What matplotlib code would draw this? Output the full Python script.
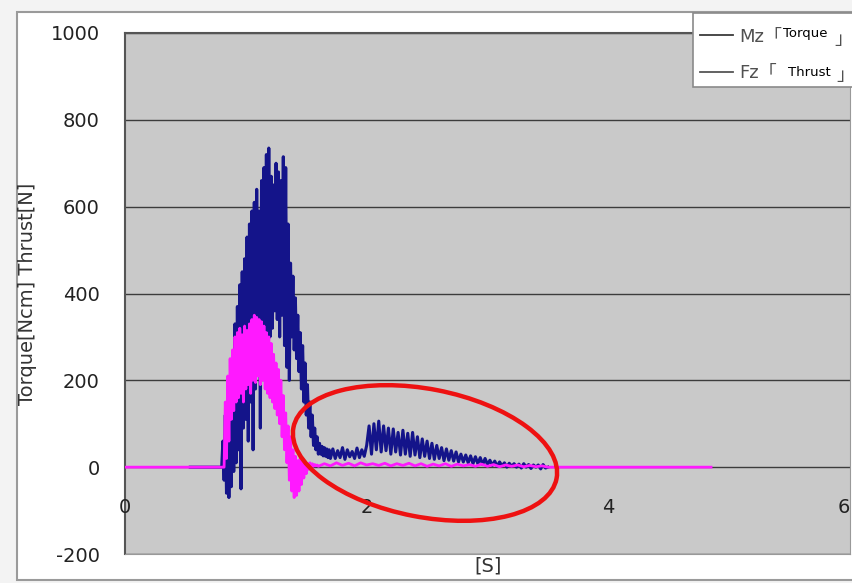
import numpy as np
import matplotlib.pyplot as plt
from matplotlib.patches import Rectangle, Ellipse
from matplotlib.lines import Line2D

# -------- DONNÉES --------
# Mz (Torque) : plat à 0, rafale entre 0.80 et 1.70 s (pas 0.01 s), puis traîne (pas 0.02 s)
MZ_START = [0.54, 0.79]
MZ_START_VAL = [0, 0]
MZ_BURST = [0, 60, -30, 120, -60, 180, -70, 210, -45, 260,
            -10, 330, 10, 370, 40, 420, -50, 450, 90, 480,
            110, 530, 60, 560, 150, 590, 40, 610, 180, 640,
            220, 590, 90, 660, 250, 690, 280, 720, 260, 735,
            300, 670, 320, 650, 360, 700, 340, 680, 300, 660,
            350, 715, 280, 690, 230, 560, 200, 470, 300, 440,
            270, 390, 250, 350, 220, 310, 180, 280, 150, 240,
            120, 190, 90, 150, 70, 120, 50, 90, 40, 70,
            30, 55, 30, 48, 26, 45, 25, 42, 22, 40, 20]
MZ_TAIL = [42, 20, 38, 22, 45, 18, 40, 24, 36, 20, 44, 22, 40, 25, 50,
           95, 30, 100, 40, 106, 35, 95, 38, 90, 30,
           88, 35, 80, 28, 85, 30, 78, 25, 80, 28,
           70, 22, 65, 25, 60, 20, 55, 18, 50, 20,
           45, 15, 42, 16, 38, 14, 35, 12, 30, 12,
           28, 10, 26, 8, 24, 8, 22, 6, 20, 6,
           16, 4, 14, 2, 12, 3, 10, 0, 9, 2,
           8, 0, 7, -2, 8, 0, 6, -3, 5, 0,
           5, -4, 6, -2, 0]

# Fz (Thrust) : rafale entre 0.82 et 1.60 s (pas 0.01 s), puis faible traîne (pas 0.05 s)
FZ_START = [0.0, 0.81]
FZ_START_VAL = [0, 0]
FZ_BURST = [0, 150, 20, 210, 60, 250, 110, 270, 130, 300,
            150, 310, 160, 320, 170, 305, 150, 325, 180, 315,
            190, 330, 170, 340, 200, 350, 195, 345, 210, 340,
            190, 335, 200, 325, 180, 310, 170, 300, 160, 285,
            150, 260, 135, 240, 120, 225, 100, 200, 70, 165,
            40, 125, 10, 95, -30, 70, -55, 40, -70, 25,
            -65, 15, -55, 20, -40, 10, -25, 12, -15, 8,
            -5, 10, 0, 8, 2, 6, 3, 5, 2]
FZ_TAIL = [8, 3, 10, 4, 9, 3, 10, 5, 8, 4,
           9, 3, 8, 4, 9, 3, 8, 2, 7, 3,
           8, 2, 7, 3, 6, 2, 7, 2, 6, 1,
           5, 2, 5, 1, 4, 1, 3, 0]
FZ_END = [3.55, 4.85]
FZ_END_VAL = [0, 0]

Y_TICKS = [1000, 800, 600, 400, 200, 0, -200]
X_TICKS = [0, 2, 4, 6]

# temps
t_mz = np.concatenate([MZ_START, 0.80 + 0.01 * np.arange(len(MZ_BURST)),
                       1.72 + 0.02 * np.arange(len(MZ_TAIL))])
mz = np.concatenate([MZ_START_VAL, MZ_BURST, MZ_TAIL])
t_fz = np.concatenate([FZ_START, 0.82 + 0.01 * np.arange(len(FZ_BURST)),
                       1.65 + 0.05 * np.arange(len(FZ_TAIL)), FZ_END])
fz = np.concatenate([FZ_START_VAL, FZ_BURST, FZ_TAIL, FZ_END_VAL])

W, H = 853, 583
fig = plt.figure(figsize=(W / 100, H / 100), dpi=100, facecolor="#f3f3f3")

# cadre extérieur du graphique
fig.add_artist(Rectangle((17 / W, 1 - 580 / H), 850 / W, 568 / H,
                         transform=fig.transFigure, facecolor="white",
                         edgecolor="#9a9a9a", lw=1.5, zorder=0))

ax = fig.add_axes([125 / W, 1 - 554 / H, 725 / W, 521 / H])
ax.set_facecolor("#c9c9c9")
ax.set_xlim(0, 6)
ax.set_ylim(-200, 1000)

for y in Y_TICKS:
    ax.axhline(y, color="#3c3c3c", lw=1.0, zorder=1)

ax.plot(t_mz, mz, color="#14148a", lw=2.2, zorder=3)
ax.plot(t_fz, fz, color="#ff19ff", lw=2.0, zorder=4)

ax.set_yticks(Y_TICKS)
ax.set_yticklabels([str(v) for v in Y_TICKS], fontsize=14, color="#222222")
ax.tick_params(axis="y", length=0, pad=18)
ax.set_xticks([])
for x in X_TICKS:
    ha = "right" if x == X_TICKS[-1] else "center"
    ax.text(x, -92, str(x), ha=ha, va="center", fontsize=14, color="#222222")

for side in ["top", "left"]:
    ax.spines[side].set_color("#555555")
    ax.spines[side].set_linewidth(1.5)
for side in ["bottom", "right"]:
    ax.spines[side].set_color("#999999")

ax.set_ylabel("Torque[Ncm] Thrust[N]", fontsize=14, color="#333333", labelpad=10)
fig.text(488 / W, 1 - 566 / H, "[S]", ha="center", va="center", fontsize=14, color="#333333")

# ellipse rouge
fig.add_artist(Ellipse((425 / 100, (H - 453) / 100), 2.68, 1.28, angle=-11,
                       transform=fig.dpi_scale_trans, fill=False,
                       edgecolor="#ee1111", lw=3.2, zorder=10))

# légende
fig.add_artist(Rectangle((693 / W, 1 - 87 / H), 170 / W, 74 / H,
                         transform=fig.transFigure, facecolor="white",
                         edgecolor="#8a8a8a", lw=1.2, zorder=11))
for yy, col in [(35, "#3a3a3a"), (72, "#555555")]:
    fig.add_artist(Line2D([700 / W, 733 / W], [1 - yy / H, 1 - yy / H],
                          transform=fig.transFigure, color=col, lw=1.3, zorder=12))
fam = ["DejaVu Sans", "Noto Sans CJK JP"]
fig.text(739 / W, 1 - 37 / H, "Mz「", fontsize=13, color="#505050",
         family=fam, va="center", zorder=12)
fig.text(783 / W, 1 - 34 / H, "Torque", fontsize=9.5, color="black", va="center", zorder=12)
fig.text(834 / W, 1 - 40 / H, "」", fontsize=13, color="#505050", family=fam,
         va="center", zorder=12)
fig.text(739 / W, 1 - 73 / H, "Fz「", fontsize=13, color="#505050",
         family=fam, va="center", zorder=12)
fig.text(788 / W, 1 - 72 / H, "Thrust", fontsize=9.5, color="black", va="center", zorder=12)
fig.text(836 / W, 1 - 76 / H, "」", fontsize=13, color="#505050", family=fam,
         va="center", zorder=12)

plt.savefig("out.png", dpi=100, facecolor=fig.get_facecolor())
